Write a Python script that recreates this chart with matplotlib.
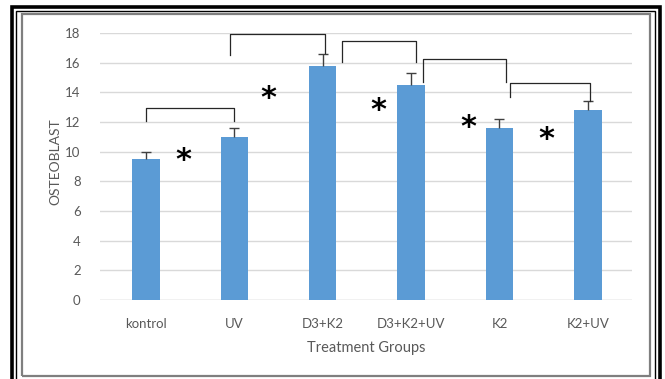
import numpy as np
import matplotlib.pyplot as plt
from matplotlib.lines import Line2D

groups = ['kontrol', 'UV', 'D3+K2', 'D3+K2+UV', 'K2', 'K2+UV']
osteoblast = [9.5, 11.0, 15.8, 14.5, 11.6, 12.8]
err = [0.5, 0.6, 0.8, 0.8, 0.6, 0.6]

# significance brackets: x left, x right, top, left leg end, right leg end
br_x1 = [0.0, 0.95, 2.22, 3.13, 4.12]
br_x2 = [1.0, 2.03, 3.05, 4.07, 5.03]
br_top = [12.95, 17.92, 17.46, 16.25, 14.63]
br_y1 = [12.1, 16.5, 16.05, 14.7, 13.69]
br_y2 = [12.1, 16.65, 16.05, 14.7, 13.45]

star_x = [0.42, 1.39, 2.63, 3.65, 4.53]
star_y = [9.4, 13.6, 12.8, 11.6, 10.8]

plt.rcParams['font.family'] = ['Lato', 'DejaVu Sans']
grey = '#595959'

fig = plt.figure(figsize=(6.65, 3.79), dpi=100)
ax = fig.add_axes([0.1504, 0.2084, 0.80, 0.7045])

x = np.arange(len(groups))
tops = np.array(osteoblast) + np.array(err)
ax.bar(x, osteoblast, width=0.31, color='#5b9bd5', zorder=3)
# upper error bars only
ax.vlines(x, osteoblast, tops, color='#404040', lw=1, zorder=4)
ax.plot(x, tops, ls='none', marker='_', ms=7, mew=1, color='#404040', zorder=4)

for a, b, t, l1, l2 in zip(br_x1, br_x2, br_top, br_y1, br_y2):
    ax.plot([a, a, b, b], [l1, t, t, l2], color='#262626', lw=0.9,
            zorder=5, clip_on=False)

for sx, sy in zip(star_x, star_y):
    ax.text(sx, sy, '*', fontsize=22, fontweight='bold', ha='center',
            va='center', family='DejaVu Sans', color='black', zorder=6)

ax.set_xlim(-0.52, 5.5)
ax.set_ylim(0, 18)
ax.set_yticks(range(0, 19, 2))
ax.set_xticks(x)
ax.set_xticklabels(groups)
ax.yaxis.grid(True, color='#d9d9d9', lw=1, zorder=0)
for s in ax.spines.values():
    s.set_visible(False)
ax.axhline(0, color='#d9d9d9', lw=1, zorder=1)
ax.tick_params(length=0, colors=grey, labelsize=9.5)
ax.tick_params(axis='x', pad=13)
ax.tick_params(axis='y', pad=14)
ax.set_ylabel('OSTEOBLAST', color=grey, fontsize=10)
ax.set_xlabel('Treatment Groups', color=grey, fontsize=10.5, labelpad=8)
ax.yaxis.set_label_coords(-0.072, 0.52)

W, H = 665, 379
def fl(xs, ys, c, lw):
    fig.add_artist(Line2D([v / W for v in xs], [1 - v / H for v in ys],
                          color=c, lw=lw, transform=fig.transFigure,
                          solid_joinstyle='miter', solid_capstyle='butt'))

# double frame
fl([11.5, 11.5, 659.5, 659.5], [390, 6.5, 6.5, 390], 'black', 2.6)
fl([16, 16, 655, 655], [390, 11, 11, 390], 'black', 1.0)
fl([22, 22, 650, 650, 22], [376, 14, 14, 376, 376], '#7f7f7f', 1.6)

fig.savefig('out.png', dpi=100)
